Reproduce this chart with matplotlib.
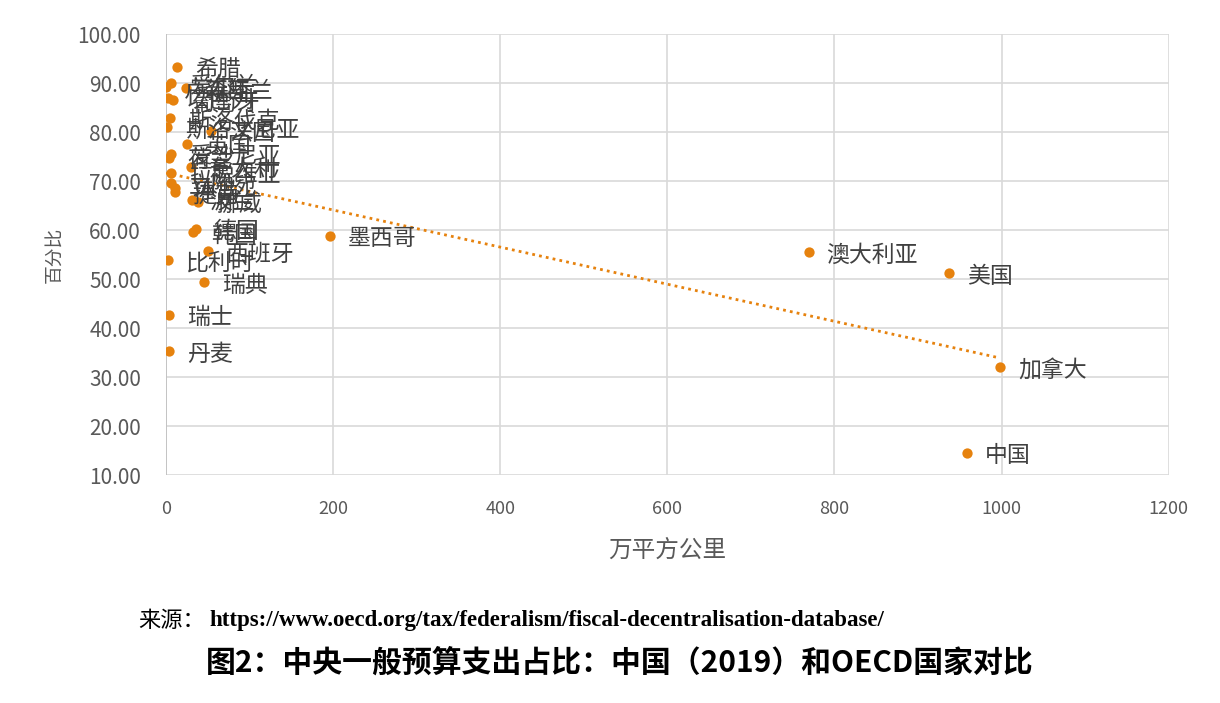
import numpy as np
import matplotlib
matplotlib.use("Agg")
import matplotlib.pyplot as plt

plt.rcParams["font.family"] = ["Noto Sans CJK SC", "DejaVu Sans"]

# 国家, 面积(万平方公里), 中央支出占比(%)
countries = [
    "希腊", "爱尔兰", "卢森堡", "新西兰", "以色列", "葡萄牙",
    "斯洛伐克", "斯洛文尼亚", "法国", "英国", "爱沙尼亚", "荷兰",
    "意大利", "拉脱维亚", "立陶宛", "冰岛", "捷克", "波兰", "挪威",
    "德国", "韩国", "西班牙", "比利时", "瑞典", "瑞士", "丹麦",
    "墨西哥", "澳大利亚", "美国", "加拿大", "中国",
]
area = [
    13.2, 6.5, 0.3, 24.5, 2.2, 9.0,
    4.9, 1.5, 53.8, 25.0, 5.6, 4.2,
    29.5, 6.3, 5.6, 10.4, 10.4, 30.7, 38.3,
    35.5, 32.7, 50.2, 2.4, 45.5, 3.9, 3.9,
    196, 769, 937, 998, 958,
]
share = [
    93.3, 90.0, 89.1, 88.9, 87.0, 86.5,
    82.9, 81.0, 80.3, 77.6, 75.6, 74.8,
    72.9, 71.7, 69.5, 68.5, 67.8, 66.1, 65.8,
    60.3, 59.5, 55.7, 53.9, 49.4, 42.7, 35.3,
    58.8, 55.5, 51.2, 32.0, 14.5,
]

x_ticks = [0, 200, 400, 600, 800, 1000, 1200]
y_ticks = [10, 20, 30, 40, 50, 60, 70, 80, 90, 100]

dot_color = "#E6820E"

fig = plt.figure(figsize=(12.2, 7.03), dpi=100)
ax = fig.add_axes([0.136, 0.3243, 0.822, 0.6273])

ax.scatter(area, share, s=55, color=dot_color, zorder=3, linewidths=0)

# 线性趋势线
k, b = np.polyfit(area, share, 1)
xs = np.array([min(area), max(area)])
ax.plot(xs, k * xs + b, linestyle=(0, (1, 1.5)), color=dot_color, linewidth=2, zorder=2)

for name, xv, yv in zip(countries, area, share):
    ax.annotate(name, (xv, yv), xytext=(18, -3), textcoords="offset pixels",
                ha="left", va="center", fontsize=16.5, color="#404040", zorder=4)

ax.set_xlim(0, 1200)
ax.set_ylim(10, 100)
ax.set_xticks(x_ticks)
ax.set_yticks(y_ticks)
ax.set_yticklabels([f"{v:.2f}" for v in y_ticks])
ax.tick_params(length=0, labelcolor="#595959")
ax.tick_params(axis="y", pad=18, labelsize=15)
ax.tick_params(axis="x", pad=18, labelsize=13)
ax.grid(True, color="#d9d9d9", linewidth=1.2)
ax.set_axisbelow(True)
for s in ax.spines.values():
    s.set_visible(False)
ax.axvline(0, color="#bfbfbf", linewidth=1.2, zorder=1)

ax.set_xlabel("万平方公里", fontsize=17, color="#595959", labelpad=15)
ax.set_ylabel("百分比", fontsize=13.5, color="#595959", labelpad=9)

fig.text(0.113, 0.118, "来源：", fontsize=16, color="black", va="center",
         family=["Noto Sans CJK SC", "DejaVu Sans"])
fig.text(0.172, 0.118, "https://www.oecd.org/tax/federalism/fiscal-decentralisation-database/",
         fontsize=16.5, fontweight="bold", color="black", va="center",
         family=["Liberation Serif", "Noto Sans CJK SC"])
fig.text(0.508, 0.057, "图2：中央一般预算支出占比：中国（2019）和OECD国家对比",
         fontsize=21.5, fontweight="bold", color="black", ha="center", va="center",
         family=["Noto Sans CJK SC", "DejaVu Sans"])

fig.savefig("out.png", dpi=100, facecolor="white")
